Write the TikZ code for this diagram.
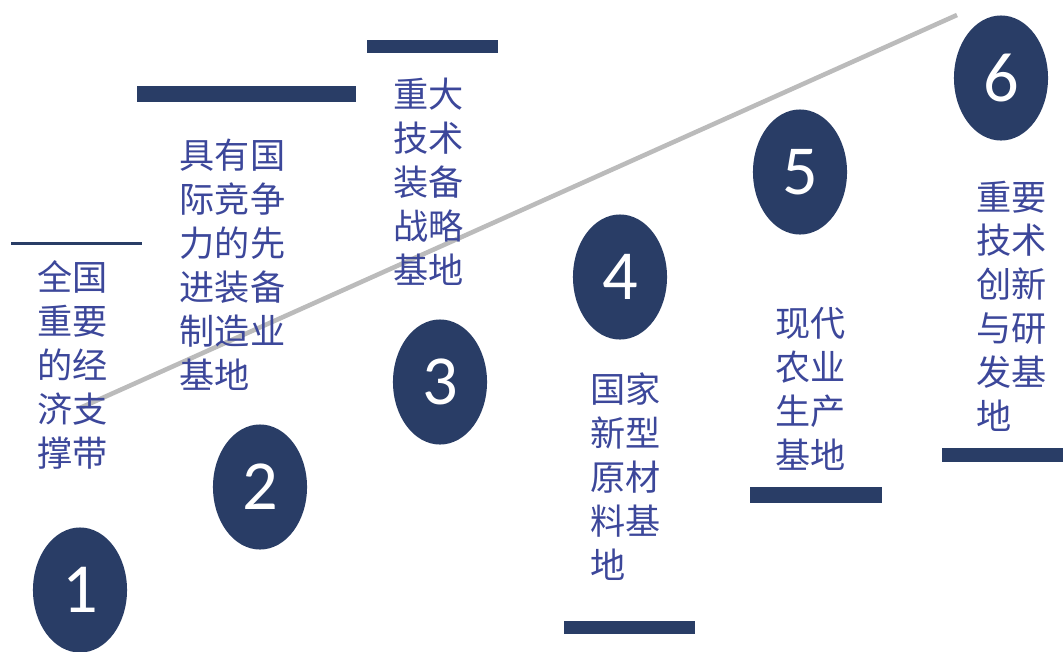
\documentclass[tikz,border=0pt]{standalone}
\usepackage{fontspec}
\usepackage{xcolor}
\usepackage{tikz}
\usetikzlibrary{shapes.geometric}
\newfontfamily\cjkfont{Noto Sans CJK SC}
\newfontfamily\numfont{Carlito}
\definecolor{navy}{HTML}{293D66}
\definecolor{inkblue}{HTML}{3C479A}
\definecolor{trendgray}{HTML}{BBBBBB}
\tikzset{
  num/.style={ellipse, fill=navy, inner sep=0pt, minimum width=0.94cm, minimum height=1.25cm,
    text=white, font=\numfont\fontsize{20pt}{20pt}\selectfont},
  base/.style={anchor=north west, inner sep=0pt, align=left, text=inkblue,
    font=\cjkfont\fontsize{10pt}{12.5pt}\selectfont},
  bar/.style={fill=navy}
}

\begin{document}
\begin{tikzpicture}[x=0.01cm,y=-0.01cm]
\useasboundingbox (0,0) rectangle (1063,651);

\coordinate (trendstart) at (80,408);
\coordinate (trendend) at (957,15);
\draw[trendgray, line width=1.3pt] (trendstart)--(trendend);

\fill[bar] (11,242) rectangle (142,245);
\fill[bar] (137,86) rectangle (356,102);
\fill[bar] (367,40) rectangle (498,53);
\fill[bar] (564,621) rectangle (695,634);
\fill[bar] (750,487) rectangle (882,503);
\fill[bar] (942,448) rectangle (1063,462);

\node[num] (n1) at (80,590) {1};
\node[num] (n2) at (260,487) {2};
\node[num] (n3) at (440,382) {3};
\node[num] (n4) at (620,277) {4};
\node[num] (n5) at (800,172) {5};
\node[num] (n6) at (1001,78) {6};

\node[base] (b1) at (37,260) {全国\\重要\\的经\\济支\\撑带};
\node[base] (b2) at (179,138) {具有国\\际竞争\\力的先\\进装备\\制造业\\基地};
\node[base] (b3) at (393,77) {重大\\技术\\装备\\战略\\基地};
\node[base] (b4) at (590,372) {国家\\新型\\原材\\料基\\地};
\node[base] (b5) at (775,307) {现代\\农业\\生产\\基地};
\node[base] (b6) at (976,180) {重要\\技术\\创新\\与研\\发基\\地};

\end{tikzpicture}
\end{document}
